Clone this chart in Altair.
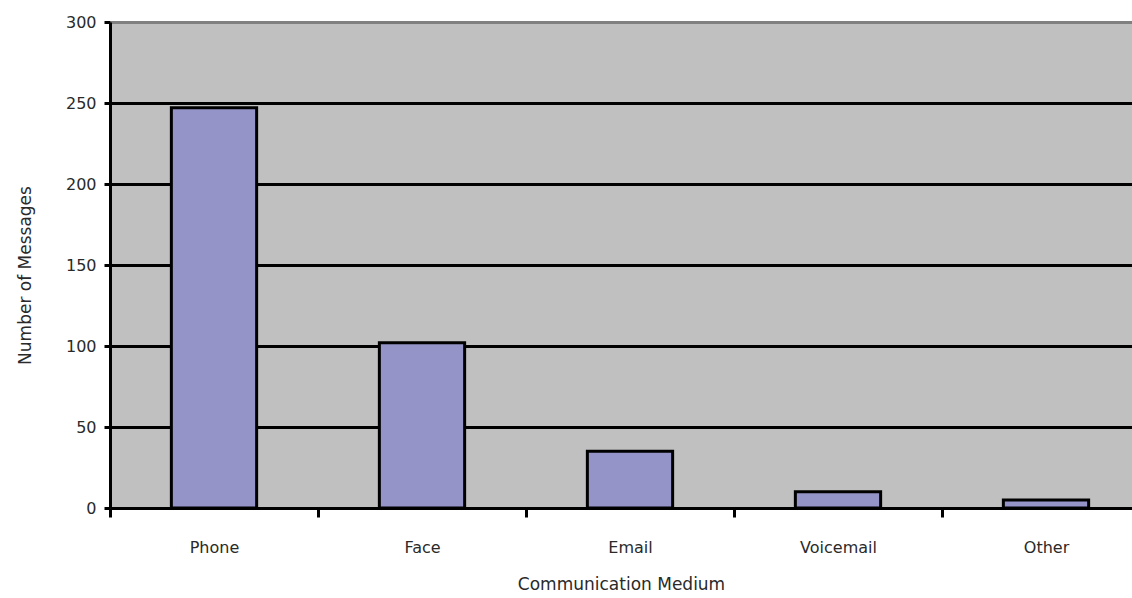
import altair as alt
import pandas as pd

categories = ["Phone", "Face", "Email", "Voicemail", "Other"]
counts = [247, 102, 35, 10, 5]
y_ticks = [0, 50, 100, 150, 200, 250, 300]

df = pd.DataFrame({"medium": categories, "count": counts})

FONT = "DejaVu Sans"
TXT = "#2a2a2a"

chart = alt.Chart(df).mark_bar(
    fill="#9494c8", stroke="black", strokeWidth=3,
    width=alt.RelativeBandSize(0.41)
).encode(
    x=alt.X("medium:N", sort=categories,
            scale=alt.Scale(paddingInner=0, paddingOuter=0, range=[0, 1040]),
            axis=alt.Axis(title="Communication Medium", labelAngle=0,
                          tickBand="extent", tickSize=9, tickWidth=3, tickColor="black",
                          domainColor="black", domainWidth=3,
                          labelPadding=22, labelFont=FONT, labelFontSize=16, labelColor=TXT,
                          titleFont=FONT, titleFontSize=17, titleFontWeight="normal", titleColor=TXT,
                          titleX=511, titleY=76, titleBaseline="middle", grid=False)),
    y=alt.Y("count:Q", scale=alt.Scale(domain=[0, 300], nice=False),
            axis=alt.Axis(title="Number of Messages", values=y_ticks,
                          tickSize=6, tickWidth=3, tickColor="black",
                          domainColor="black", domainWidth=3,
                          labelPadding=8, labelFont=FONT, labelFontSize=16, labelColor=TXT,
                          titleFont=FONT, titleFontSize=17, titleFontWeight="normal", titleColor=TXT,
                          titleX=-85, titleY=253, titleAngle=-90, titleAlign="center",
                          titleBaseline="middle",
                          grid=True, gridWidth=3,
                          gridColor={"condition": {"test": "datum.value === 300", "value": "#808080"},
                                     "value": "black"})),
).properties(
    width=1022, height=486,
    autosize=alt.AutoSizeParams(type="none"),
    padding={"left": 110, "top": 22, "right": 0, "bottom": 90},
    background="white",
).configure_view(
    fill="#c0c0c0", strokeWidth=0
)

chart.save("out.html", embed_options={"renderer": "svg", "actions": False})
